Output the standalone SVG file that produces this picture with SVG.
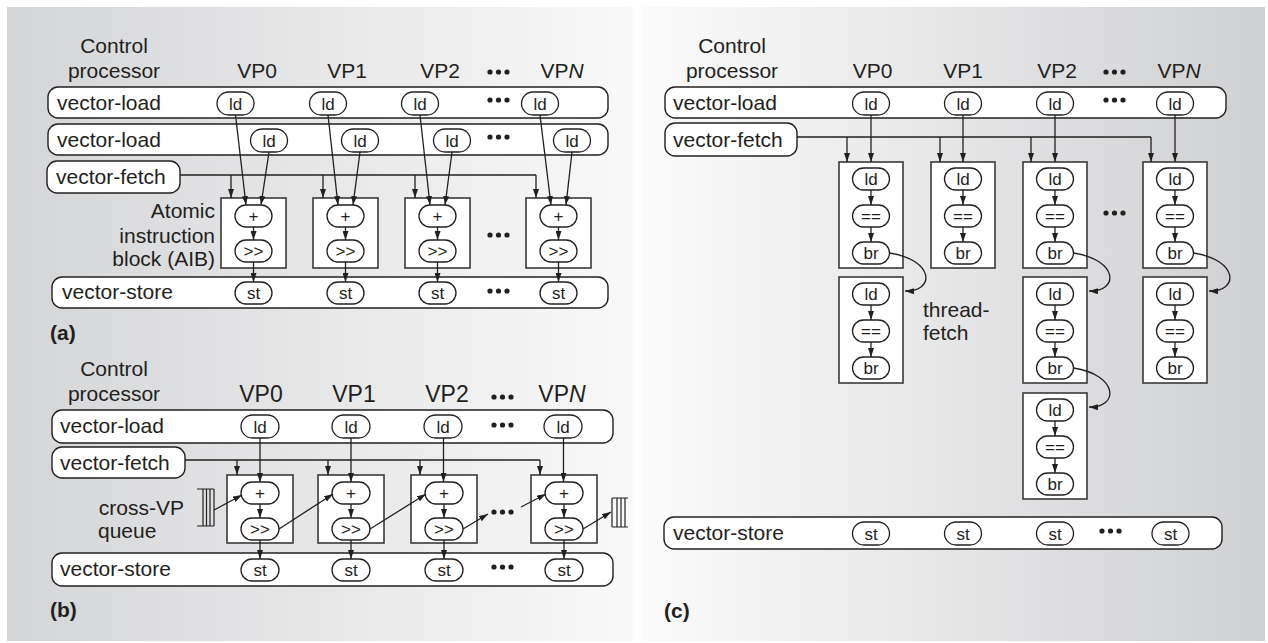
<svg xmlns="http://www.w3.org/2000/svg" width="1268" height="643" viewBox="0 0 1268 643">
<defs>
<linearGradient id="gl" x1="0" y1="0" x2="1" y2="0"><stop offset="0" stop-color="#d4d5d7"/><stop offset="1" stop-color="#f9f9f9"/></linearGradient>
<linearGradient id="gr" x1="0" y1="0" x2="1" y2="0"><stop offset="0" stop-color="#fbfbfb"/><stop offset="1" stop-color="#cfd0d2"/></linearGradient>
<marker id="ah" markerWidth="9" markerHeight="6" refX="9" refY="3" orient="auto" markerUnits="userSpaceOnUse"><path d="M0,0 L9,3 L0,6 z" fill="#231f20"/></marker>
</defs>
<style>
.row{fill:#fff;stroke:#231f20;stroke-width:1.4}
.pill{fill:#fff;stroke:#231f20;stroke-width:1.3}
.box{fill:#fff;stroke:#3a3a3a;stroke-width:1.6}
text{font-family:"Liberation Sans",Arial,Helvetica,sans-serif;fill:#231f20}
.lbl{font-size:21px}
.vp{font-size:21px;text-anchor:middle}
.vpb{font-size:23px;text-anchor:middle}
.pt{font-size:17px;text-anchor:middle}
.cap{font-size:21px;font-weight:bold}
.ln{stroke:#231f20;stroke-width:1.3;fill:none}
.ar{stroke:#231f20;stroke-width:1.3;fill:none;marker-end:url(#ah)}
.dot{fill:#231f20}
.q{stroke:#231f20;stroke-width:1.2;fill:none}
</style>
<rect x="7" y="7" width="627" height="634" fill="url(#gl)"/>
<rect x="641" y="7" width="624" height="634" fill="url(#gr)"/>

<!-- ================= Panel (a) ================= -->
<g id="a-headers">
<text class="vp" x="114" y="53">Control</text>
<text class="vp" x="114" y="78">processor</text>
<text class="vp" x="257" y="78">VP0</text>
<text class="vp" x="347" y="78">VP1</text>
<text class="vp" x="440" y="78">VP2</text>
<text class="vp" x="562" y="78">VP<tspan font-style="italic">N</tspan></text>
<g class="dot"><circle cx="490" cy="72" r="2.6"/><circle cx="498.5" cy="72" r="2.6"/><circle cx="507" cy="72" r="2.6"/></g>
</g>
<g id="a-vector-load-1">
<rect class="row" x="48" y="87" width="560" height="31" rx="10"/>
<text class="lbl" x="57" y="110">vector-load</text>
<rect class="pill" x="217" y="92" width="37" height="23" rx="11.5"/><text class="pt" x="235.5" y="110">ld</text>
<rect class="pill" x="309.5" y="92" width="37" height="23" rx="11.5"/><text class="pt" x="328" y="110">ld</text>
<rect class="pill" x="401.5" y="92" width="37" height="23" rx="11.5"/><text class="pt" x="420" y="110">ld</text>
<rect class="pill" x="521.5" y="92" width="37" height="23" rx="11.5"/><text class="pt" x="540" y="110">ld</text>
<g class="dot"><circle cx="490" cy="100" r="2.6"/><circle cx="498.5" cy="100" r="2.6"/><circle cx="507" cy="100" r="2.6"/></g>
</g>
<g id="a-vector-load-2">
<rect class="row" x="48" y="124" width="560" height="31" rx="10"/>
<text class="lbl" x="57" y="147">vector-load</text>
<rect class="pill" x="250.5" y="129" width="37" height="23" rx="11.5"/><text class="pt" x="269" y="147">ld</text>
<rect class="pill" x="341.5" y="129" width="37" height="23" rx="11.5"/><text class="pt" x="360" y="147">ld</text>
<rect class="pill" x="433.5" y="129" width="37" height="23" rx="11.5"/><text class="pt" x="452" y="147">ld</text>
<rect class="pill" x="553.5" y="129" width="37" height="23" rx="11.5"/><text class="pt" x="572" y="147">ld</text>
<g class="dot"><circle cx="490" cy="137" r="2.6"/><circle cx="498.5" cy="137" r="2.6"/><circle cx="507" cy="137" r="2.6"/></g>
</g>
<g id="a-vector-fetch">
<rect class="row" x="47" y="161" width="133" height="32" rx="10"/>
<text class="lbl" x="56" y="184">vector-fetch</text>
</g>
<g id="a-aib-label">
<text class="lbl" x="215" y="218" text-anchor="end">Atomic</text>
<text class="lbl" x="215" y="243" text-anchor="end">instruction</text>
<text class="lbl" x="215" y="266" text-anchor="end">block (AIB)</text>
</g>
<g id="a-aib-vp0">
<rect class="box" x="221" y="198" width="65" height="70"/>
<rect class="pill" x="235" y="205" width="37" height="22" rx="11"/><text class="pt" x="253.5" y="222">+</text>
<rect class="pill" x="235" y="240" width="37" height="22" rx="11"/><text class="pt" x="253.5" y="257">&gt;&gt;</text>
</g>
<g id="a-aib-vp1">
<rect class="box" x="313" y="198" width="65" height="70"/>
<rect class="pill" x="327" y="205" width="37" height="22" rx="11"/><text class="pt" x="345.5" y="222">+</text>
<rect class="pill" x="327" y="240" width="37" height="22" rx="11"/><text class="pt" x="345.5" y="257">&gt;&gt;</text>
</g>
<g id="a-aib-vp2">
<rect class="box" x="405" y="198" width="65" height="70"/>
<rect class="pill" x="419" y="205" width="37" height="22" rx="11"/><text class="pt" x="437.5" y="222">+</text>
<rect class="pill" x="419" y="240" width="37" height="22" rx="11"/><text class="pt" x="437.5" y="257">&gt;&gt;</text>
</g>
<g id="a-aib-vpn">
<rect class="box" x="526" y="198" width="65" height="70"/>
<rect class="pill" x="540" y="205" width="37" height="22" rx="11"/><text class="pt" x="558.5" y="222">+</text>
<rect class="pill" x="540" y="240" width="37" height="22" rx="11"/><text class="pt" x="558.5" y="257">&gt;&gt;</text>
</g>
<g class="dot" id="a-aib-dots"><circle cx="490" cy="235" r="2.6"/><circle cx="498.5" cy="235" r="2.6"/><circle cx="507" cy="235" r="2.6"/></g>
<g id="a-vector-store">
<rect class="row" x="52" y="277" width="556" height="31" rx="10"/>
<text class="lbl" x="62" y="299">vector-store</text>
<rect class="pill" x="235" y="282" width="37" height="22" rx="11"/><text class="pt" x="253.5" y="299">st</text>
<rect class="pill" x="327" y="282" width="37" height="22" rx="11"/><text class="pt" x="345.5" y="299">st</text>
<rect class="pill" x="419" y="282" width="37" height="22" rx="11"/><text class="pt" x="437.5" y="299">st</text>
<rect class="pill" x="540" y="282" width="37" height="22" rx="11"/><text class="pt" x="558.5" y="299">st</text>
<g class="dot"><circle cx="490" cy="291" r="2.6"/><circle cx="498.5" cy="291" r="2.6"/><circle cx="507" cy="291" r="2.6"/></g>
</g>
<text class="cap" x="50" y="340">(a)</text>
<g id="a-connectors">
<path class="ln" d="M180,175 H536"/>
<path class="ar" d="M231,175 V198"/><path class="ar" d="M323,175 V198"/><path class="ar" d="M415,175 V198"/><path class="ar" d="M536,175 V198"/>
<path class="ar" d="M235.5,115 L246,205"/><path class="ar" d="M328,115 L338,205"/><path class="ar" d="M420,115 L430,205"/><path class="ar" d="M540,115 L551,205"/>
<path class="ar" d="M269,152 L261,205"/><path class="ar" d="M360,152 L353,205"/><path class="ar" d="M452,152 L445,205"/><path class="ar" d="M572,152 L566,205"/>
<path class="ar" d="M253.5,227 V240"/><path class="ar" d="M345.5,227 V240"/><path class="ar" d="M437.5,227 V240"/><path class="ar" d="M558.5,227 V240"/>
<path class="ar" d="M253.5,262 V282"/><path class="ar" d="M345.5,262 V282"/><path class="ar" d="M437.5,262 V282"/><path class="ar" d="M558.5,262 V282"/>
</g>

<!-- ================= Panel (b) ================= -->
<g id="b-headers">
<text class="vp" x="114" y="376">Control</text>
<text class="vp" x="114" y="401">processor</text>
<text class="vpb" x="261" y="402">VP0</text>
<text class="vpb" x="354" y="402">VP1</text>
<text class="vpb" x="447" y="402">VP2</text>
<text class="vpb" x="562" y="402">VP<tspan font-style="italic">N</tspan></text>
<g class="dot"><circle cx="494" cy="397" r="2.6"/><circle cx="502.5" cy="397" r="2.6"/><circle cx="511" cy="397" r="2.6"/></g>
</g>
<g id="b-vector-load">
<rect class="row" x="52" y="410" width="561" height="33" rx="10"/>
<text class="lbl" x="60" y="433">vector-load</text>
<rect class="pill" x="241" y="415" width="38" height="23" rx="11.5"/><text class="pt" x="260" y="433">ld</text>
<rect class="pill" x="332" y="415" width="38" height="23" rx="11.5"/><text class="pt" x="351" y="433">ld</text>
<rect class="pill" x="424" y="415" width="38" height="23" rx="11.5"/><text class="pt" x="443" y="433">ld</text>
<rect class="pill" x="544" y="415" width="38" height="23" rx="11.5"/><text class="pt" x="563" y="433">ld</text>
<g class="dot"><circle cx="494" cy="425" r="2.6"/><circle cx="502.5" cy="425" r="2.6"/><circle cx="511" cy="425" r="2.6"/></g>
</g>
<g id="b-vector-fetch">
<rect class="row" x="52" y="447" width="133" height="31" rx="10"/>
<text class="lbl" x="60" y="470">vector-fetch</text>
</g>
<g id="b-queue-label">
<text class="lbl" x="184" y="515" text-anchor="end">cross-VP</text>
<text class="lbl" x="98" y="538">queue</text>
</g>
<g id="b-queue-left">
<path class="q" d="M197,489 H214 M197,526 H214 M203,489 V526 M206.5,489 V526 M210,489 V526 M214,489 V526"/>
</g>
<g id="b-vp0">
<rect class="box" x="227" y="475" width="66" height="68"/>
<rect class="pill" x="241" y="482" width="38" height="22" rx="11"/><text class="pt" x="260" y="499">+</text>
<rect class="pill" x="241" y="518" width="38" height="22" rx="11"/><text class="pt" x="260" y="535">&gt;&gt;</text>
</g>
<g id="b-vp1">
<rect class="box" x="318" y="475" width="66" height="68"/>
<rect class="pill" x="332" y="482" width="38" height="22" rx="11"/><text class="pt" x="351" y="499">+</text>
<rect class="pill" x="332" y="518" width="38" height="22" rx="11"/><text class="pt" x="351" y="535">&gt;&gt;</text>
</g>
<g id="b-vp2">
<rect class="box" x="411" y="475" width="66" height="68"/>
<rect class="pill" x="425" y="482" width="38" height="22" rx="11"/><text class="pt" x="444" y="499">+</text>
<rect class="pill" x="425" y="518" width="38" height="22" rx="11"/><text class="pt" x="444" y="535">&gt;&gt;</text>
</g>
<g id="b-vpn">
<rect class="box" x="531" y="475" width="66" height="68"/>
<rect class="pill" x="545" y="482" width="38" height="22" rx="11"/><text class="pt" x="564" y="499">+</text>
<rect class="pill" x="545" y="518" width="38" height="22" rx="11"/><text class="pt" x="564" y="535">&gt;&gt;</text>
</g>
<g class="dot" id="b-mid-dots"><circle cx="494" cy="512" r="2.6"/><circle cx="502.5" cy="512" r="2.6"/><circle cx="511" cy="512" r="2.6"/></g>
<g id="b-queue-right">
<path class="q" d="M612,498 H628 M612,527 H628 M612,498 V527 M617,498 V527 M621,498 V527 M625,498 V527"/>
</g>
<g id="b-vector-store">
<rect class="row" x="52" y="553" width="561" height="33" rx="10"/>
<text class="lbl" x="60" y="576">vector-store</text>
<rect class="pill" x="241" y="559" width="38" height="22" rx="11"/><text class="pt" x="260" y="576">st</text>
<rect class="pill" x="332" y="559" width="38" height="22" rx="11"/><text class="pt" x="351" y="576">st</text>
<rect class="pill" x="425" y="559" width="38" height="22" rx="11"/><text class="pt" x="444" y="576">st</text>
<rect class="pill" x="545" y="559" width="38" height="22" rx="11"/><text class="pt" x="564" y="576">st</text>
<g class="dot"><circle cx="494" cy="567" r="2.6"/><circle cx="502.5" cy="567" r="2.6"/><circle cx="511" cy="567" r="2.6"/></g>
</g>
<text class="cap" x="50" y="617">(b)</text>
<g id="b-connectors">
<path class="ln" d="M185,460 H540"/>
<path class="ar" d="M237,460 V475"/><path class="ar" d="M328,460 V475"/><path class="ar" d="M420,460 V475"/><path class="ar" d="M540,460 V475"/>
<path class="ar" d="M260,438 V482"/><path class="ar" d="M351,438 V482"/><path class="ar" d="M443.5,438 V482"/><path class="ar" d="M563.5,438 V482"/>
<path class="ar" d="M260,504 V518"/><path class="ar" d="M351,504 V518"/><path class="ar" d="M444,504 V518"/><path class="ar" d="M564,504 V518"/>
<path class="ar" d="M260,540 V559"/><path class="ar" d="M351,540 V559"/><path class="ar" d="M444,540 V559"/><path class="ar" d="M564,540 V559"/>
<path class="ar" d="M214,510 L242,495"/>
<path class="ar" d="M279,529 L333,494"/>
<path class="ar" d="M370,529 L426,494"/>
<path class="ar" d="M463,529 L488,514"/>
<path class="ar" d="M521,507 L546,494"/>
<path class="ar" d="M583,529 L611,512"/>
</g>

<!-- ================= Panel (c) ================= -->
<g id="c-headers">
<text class="vp" x="732" y="53">Control</text>
<text class="vp" x="732" y="78">processor</text>
<text class="vp" x="872.5" y="78">VP0</text>
<text class="vp" x="963" y="78">VP1</text>
<text class="vp" x="1057" y="78">VP2</text>
<text class="vp" x="1179" y="78">VP<tspan font-style="italic">N</tspan></text>
<g class="dot"><circle cx="1106" cy="72" r="2.6"/><circle cx="1114.5" cy="72" r="2.6"/><circle cx="1123" cy="72" r="2.6"/></g>
</g>
<g id="c-vector-load">
<rect class="row" x="665" y="87" width="561" height="31" rx="10"/>
<text class="lbl" x="673" y="110">vector-load</text>
<rect class="pill" x="852.5" y="92" width="37" height="23" rx="11.5"/><text class="pt" x="871" y="110">ld</text>
<rect class="pill" x="944.5" y="92" width="37" height="23" rx="11.5"/><text class="pt" x="963" y="110">ld</text>
<rect class="pill" x="1036.5" y="92" width="37" height="23" rx="11.5"/><text class="pt" x="1055" y="110">ld</text>
<rect class="pill" x="1156.5" y="92" width="37" height="23" rx="11.5"/><text class="pt" x="1175" y="110">ld</text>
<g class="dot"><circle cx="1106" cy="100" r="2.6"/><circle cx="1114.5" cy="100" r="2.6"/><circle cx="1123" cy="100" r="2.6"/></g>
</g>
<g id="c-vector-fetch">
<rect class="row" x="665" y="123" width="132" height="33" rx="10"/>
<text class="lbl" x="673" y="147">vector-fetch</text>
</g>
<g id="c-vp0-b1">
<rect class="box" x="839" y="162" width="64" height="106"/>
<rect class="pill" x="852.5" y="168" width="37" height="22" rx="11"/><text class="pt" x="871" y="185">ld</text>
<rect class="pill" x="852.5" y="205" width="37" height="22" rx="11"/><text class="pt" x="871" y="222">==</text>
<rect class="pill" x="852.5" y="242" width="37" height="22" rx="11"/><text class="pt" x="871" y="259">br</text>
</g>
<g id="c-vp0-b2">
<rect class="box" x="839" y="277" width="64" height="106"/>
<rect class="pill" x="852.5" y="283" width="37" height="22" rx="11"/><text class="pt" x="871" y="300">ld</text>
<rect class="pill" x="852.5" y="320" width="37" height="22" rx="11"/><text class="pt" x="871" y="337">==</text>
<rect class="pill" x="852.5" y="357" width="37" height="22" rx="11"/><text class="pt" x="871" y="374">br</text>
</g>
<g id="c-vp1-b1">
<rect class="box" x="931" y="162" width="64" height="106"/>
<rect class="pill" x="944.5" y="168" width="37" height="22" rx="11"/><text class="pt" x="963" y="185">ld</text>
<rect class="pill" x="944.5" y="205" width="37" height="22" rx="11"/><text class="pt" x="963" y="222">==</text>
<rect class="pill" x="944.5" y="242" width="37" height="22" rx="11"/><text class="pt" x="963" y="259">br</text>
</g>
<g id="c-vp2-b1">
<rect class="box" x="1023" y="162" width="64" height="106"/>
<rect class="pill" x="1036.5" y="168" width="37" height="22" rx="11"/><text class="pt" x="1055" y="185">ld</text>
<rect class="pill" x="1036.5" y="205" width="37" height="22" rx="11"/><text class="pt" x="1055" y="222">==</text>
<rect class="pill" x="1036.5" y="242" width="37" height="22" rx="11"/><text class="pt" x="1055" y="259">br</text>
</g>
<g id="c-vp2-b2">
<rect class="box" x="1023" y="277" width="64" height="106"/>
<rect class="pill" x="1036.5" y="283" width="37" height="22" rx="11"/><text class="pt" x="1055" y="300">ld</text>
<rect class="pill" x="1036.5" y="320" width="37" height="22" rx="11"/><text class="pt" x="1055" y="337">==</text>
<rect class="pill" x="1036.5" y="357" width="37" height="22" rx="11"/><text class="pt" x="1055" y="374">br</text>
</g>
<g id="c-vp2-b3">
<rect class="box" x="1023" y="393" width="64" height="106"/>
<rect class="pill" x="1036.5" y="399" width="37" height="22" rx="11"/><text class="pt" x="1055" y="416">ld</text>
<rect class="pill" x="1036.5" y="436" width="37" height="22" rx="11"/><text class="pt" x="1055" y="453">==</text>
<rect class="pill" x="1036.5" y="473" width="37" height="22" rx="11"/><text class="pt" x="1055" y="490">br</text>
</g>
<g id="c-vpn-b1">
<rect class="box" x="1143" y="162" width="64" height="106"/>
<rect class="pill" x="1156.5" y="168" width="37" height="22" rx="11"/><text class="pt" x="1175" y="185">ld</text>
<rect class="pill" x="1156.5" y="205" width="37" height="22" rx="11"/><text class="pt" x="1175" y="222">==</text>
<rect class="pill" x="1156.5" y="242" width="37" height="22" rx="11"/><text class="pt" x="1175" y="259">br</text>
</g>
<g id="c-vpn-b2">
<rect class="box" x="1143" y="277" width="64" height="106"/>
<rect class="pill" x="1156.5" y="283" width="37" height="22" rx="11"/><text class="pt" x="1175" y="300">ld</text>
<rect class="pill" x="1156.5" y="320" width="37" height="22" rx="11"/><text class="pt" x="1175" y="337">==</text>
<rect class="pill" x="1156.5" y="357" width="37" height="22" rx="11"/><text class="pt" x="1175" y="374">br</text>
</g>
<g class="dot" id="c-mid-dots"><circle cx="1106" cy="213" r="2.6"/><circle cx="1114.5" cy="213" r="2.6"/><circle cx="1123" cy="213" r="2.6"/></g>
<g id="c-thread-fetch-label">
<text class="lbl" x="923" y="317">thread-</text>
<text class="lbl" x="923" y="340">fetch</text>
</g>
<g id="c-vector-store">
<rect class="row" x="664" y="517" width="558" height="32" rx="10"/>
<text class="lbl" x="673" y="540">vector-store</text>
<rect class="pill" x="852.5" y="522" width="37" height="23" rx="11.5"/><text class="pt" x="871" y="540">st</text>
<rect class="pill" x="944.5" y="522" width="37" height="23" rx="11.5"/><text class="pt" x="963" y="540">st</text>
<rect class="pill" x="1036.5" y="522" width="37" height="23" rx="11.5"/><text class="pt" x="1055" y="540">st</text>
<rect class="pill" x="1152" y="522" width="37" height="23" rx="11.5"/><text class="pt" x="1170.5" y="540">st</text>
<g class="dot"><circle cx="1102" cy="531" r="2.6"/><circle cx="1110.5" cy="531" r="2.6"/><circle cx="1119" cy="531" r="2.6"/></g>
</g>
<text class="cap" x="664" y="618">(c)</text>
<g id="c-connectors">
<path class="ln" d="M797,137 H1151"/>
<path class="ar" d="M847,137 V162"/><path class="ar" d="M940,137 V162"/><path class="ar" d="M1031,137 V162"/><path class="ar" d="M1151,137 V162"/>
<path class="ar" d="M871,115 V162"/><path class="ar" d="M963,115 V162"/><path class="ar" d="M1055,115 V162"/><path class="ar" d="M1175,115 V162"/>
<path class="ar" d="M871,190 V205"/><path class="ar" d="M871,227 V242"/>
<path class="ar" d="M871,305 V320"/><path class="ar" d="M871,342 V357"/>
<path class="ar" d="M963,190 V205"/><path class="ar" d="M963,227 V242"/>
<path class="ar" d="M1055,190 V205"/><path class="ar" d="M1055,227 V242"/>
<path class="ar" d="M1055,305 V320"/><path class="ar" d="M1055,342 V357"/>
<path class="ar" d="M1055,421 V436"/><path class="ar" d="M1055,458 V473"/>
<path class="ar" d="M1175,190 V205"/><path class="ar" d="M1175,227 V242"/>
<path class="ar" d="M1175,305 V320"/><path class="ar" d="M1175,342 V357"/>
<path class="ar" d="M889.5,253 C935,260 935,292 905,291"/>
<path class="ar" d="M1073.5,253 C1119,260 1119,292 1089,291"/>
<path class="ar" d="M1193.5,253 C1239,260 1239,292 1209,291"/>
<path class="ar" d="M1073.5,368 C1119,375 1119,408 1089,407"/>
</g>
</svg>
